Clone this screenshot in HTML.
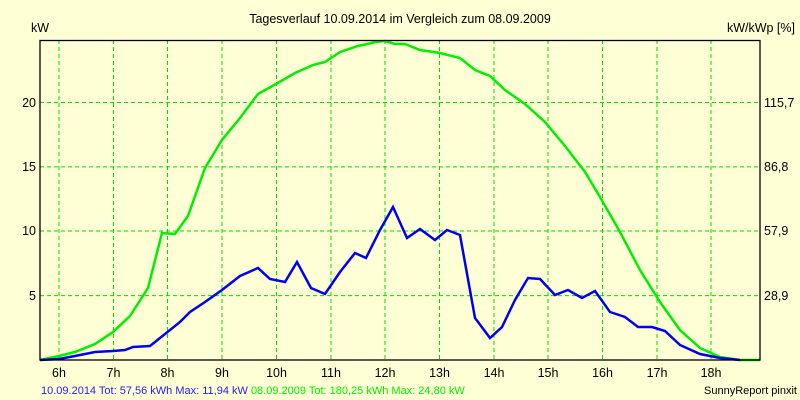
<!DOCTYPE html>
<html><head><meta charset="utf-8"><style>
html,body{margin:0;padding:0;background:#ffffd5;}
svg{display:block;font-family:"Liberation Sans",sans-serif;}
</style></head><body>
<svg width="800" height="400" xmlns="http://www.w3.org/2000/svg">
<rect width="800" height="400" fill="#ffffd5"/>
<g stroke="#00dd00" stroke-dasharray="4,3" stroke-width="1">
<line x1="59" y1="40" x2="59" y2="360"/><line x1="113.5" y1="40" x2="113.5" y2="360"/><line x1="167.5" y1="40" x2="167.5" y2="360"/><line x1="222" y1="40" x2="222" y2="360"/><line x1="276.5" y1="40" x2="276.5" y2="360"/><line x1="331" y1="40" x2="331" y2="360"/><line x1="385" y1="40" x2="385" y2="360"/><line x1="439.5" y1="40" x2="439.5" y2="360"/><line x1="494" y1="40" x2="494" y2="360"/><line x1="548" y1="40" x2="548" y2="360"/><line x1="602.5" y1="40" x2="602.5" y2="360"/><line x1="657" y1="40" x2="657" y2="360"/><line x1="711" y1="40" x2="711" y2="360"/>
<line x1="40" y1="102.5" x2="760" y2="102.5"/><line x1="40" y1="166.9" x2="760" y2="166.9"/><line x1="40" y1="231" x2="760" y2="231"/><line x1="40" y1="295.6" x2="760" y2="295.6"/>
</g>
<polyline fill="none" stroke="#00ee00" stroke-width="2.5" points="40,360 59,356 75,352 95,344 113,332 130,316 148,288 162,233 175,234 188,216 205,168 222,140 240,118 258,94 276,84 295,73 313,65 325,62 340,52 358,46 376,42 385,41 395,44 405,44 420,50 440,53 460,58 475,70 490,76 505,90 525,104 545,122 565,146 585,172 600,197 620,232 640,270 660,302 680,330 700,348 720,357 740,360 760,360"/>
<polyline fill="none" stroke="#0000ee" stroke-width="2.5" points="40,360 59,359 75,356 95,352 113,351 125,350 133,347 150,346 165,334 180,322 190,312 205,302 222,290 240,276 258,268 270,279 285,282 297,262 311,288 325,294 340,272 355,253 366,258 380,230 393,207 407,238 420,229 435,240 447,230 460,235 475,318 490,338 502,327 515,300 528,278 540,279 555,295 568,290 582,298 595,291 610,312 625,317 638,327 652,327 665,331 680,345 700,354 720,358 740,360"/>
<rect x="40" y="40.5" width="720" height="319.5" fill="none" stroke="#000" stroke-width="1.3"/>
<g font-size="12.5" fill="#000">
<text x="400" y="23" text-anchor="middle">Tagesverlauf 10.09.2014 im Vergleich zum 08.09.2009</text>
<text x="31" y="32">kW</text>
<text x="795" y="32" text-anchor="end">kW/kWp [%]</text>
<g text-anchor="end"><text x="36" y="107">20</text><text x="36" y="171">15</text><text x="36" y="235">10</text><text x="36" y="300">5</text></g>
<g><text x="764" y="107">115,7</text><text x="764" y="171">86,8</text><text x="764" y="235">57,9</text><text x="764" y="300">28,9</text></g>
<g text-anchor="middle"><text x="59" y="377">6h</text><text x="113.5" y="377">7h</text><text x="167.5" y="377">8h</text><text x="222" y="377">9h</text><text x="276.5" y="377">10h</text><text x="331" y="377">11h</text><text x="385" y="377">12h</text><text x="439.5" y="377">13h</text><text x="494" y="377">14h</text><text x="548" y="377">15h</text><text x="602.5" y="377">16h</text><text x="657" y="377">17h</text><text x="711" y="377">18h</text></g>
</g>
<text x="41" y="394" font-size="11"><tspan fill="#2222ee">10.09.2014 Tot: 57,56 kWh Max: 11,94 kW </tspan><tspan fill="#00ee00">08.09.2009 Tot: 180,25 kWh Max: 24,80 kW</tspan></text>
<text x="797" y="394" font-size="11" text-anchor="end" fill="#000">SunnyReport pinxit</text>
</svg>
</body></html>
